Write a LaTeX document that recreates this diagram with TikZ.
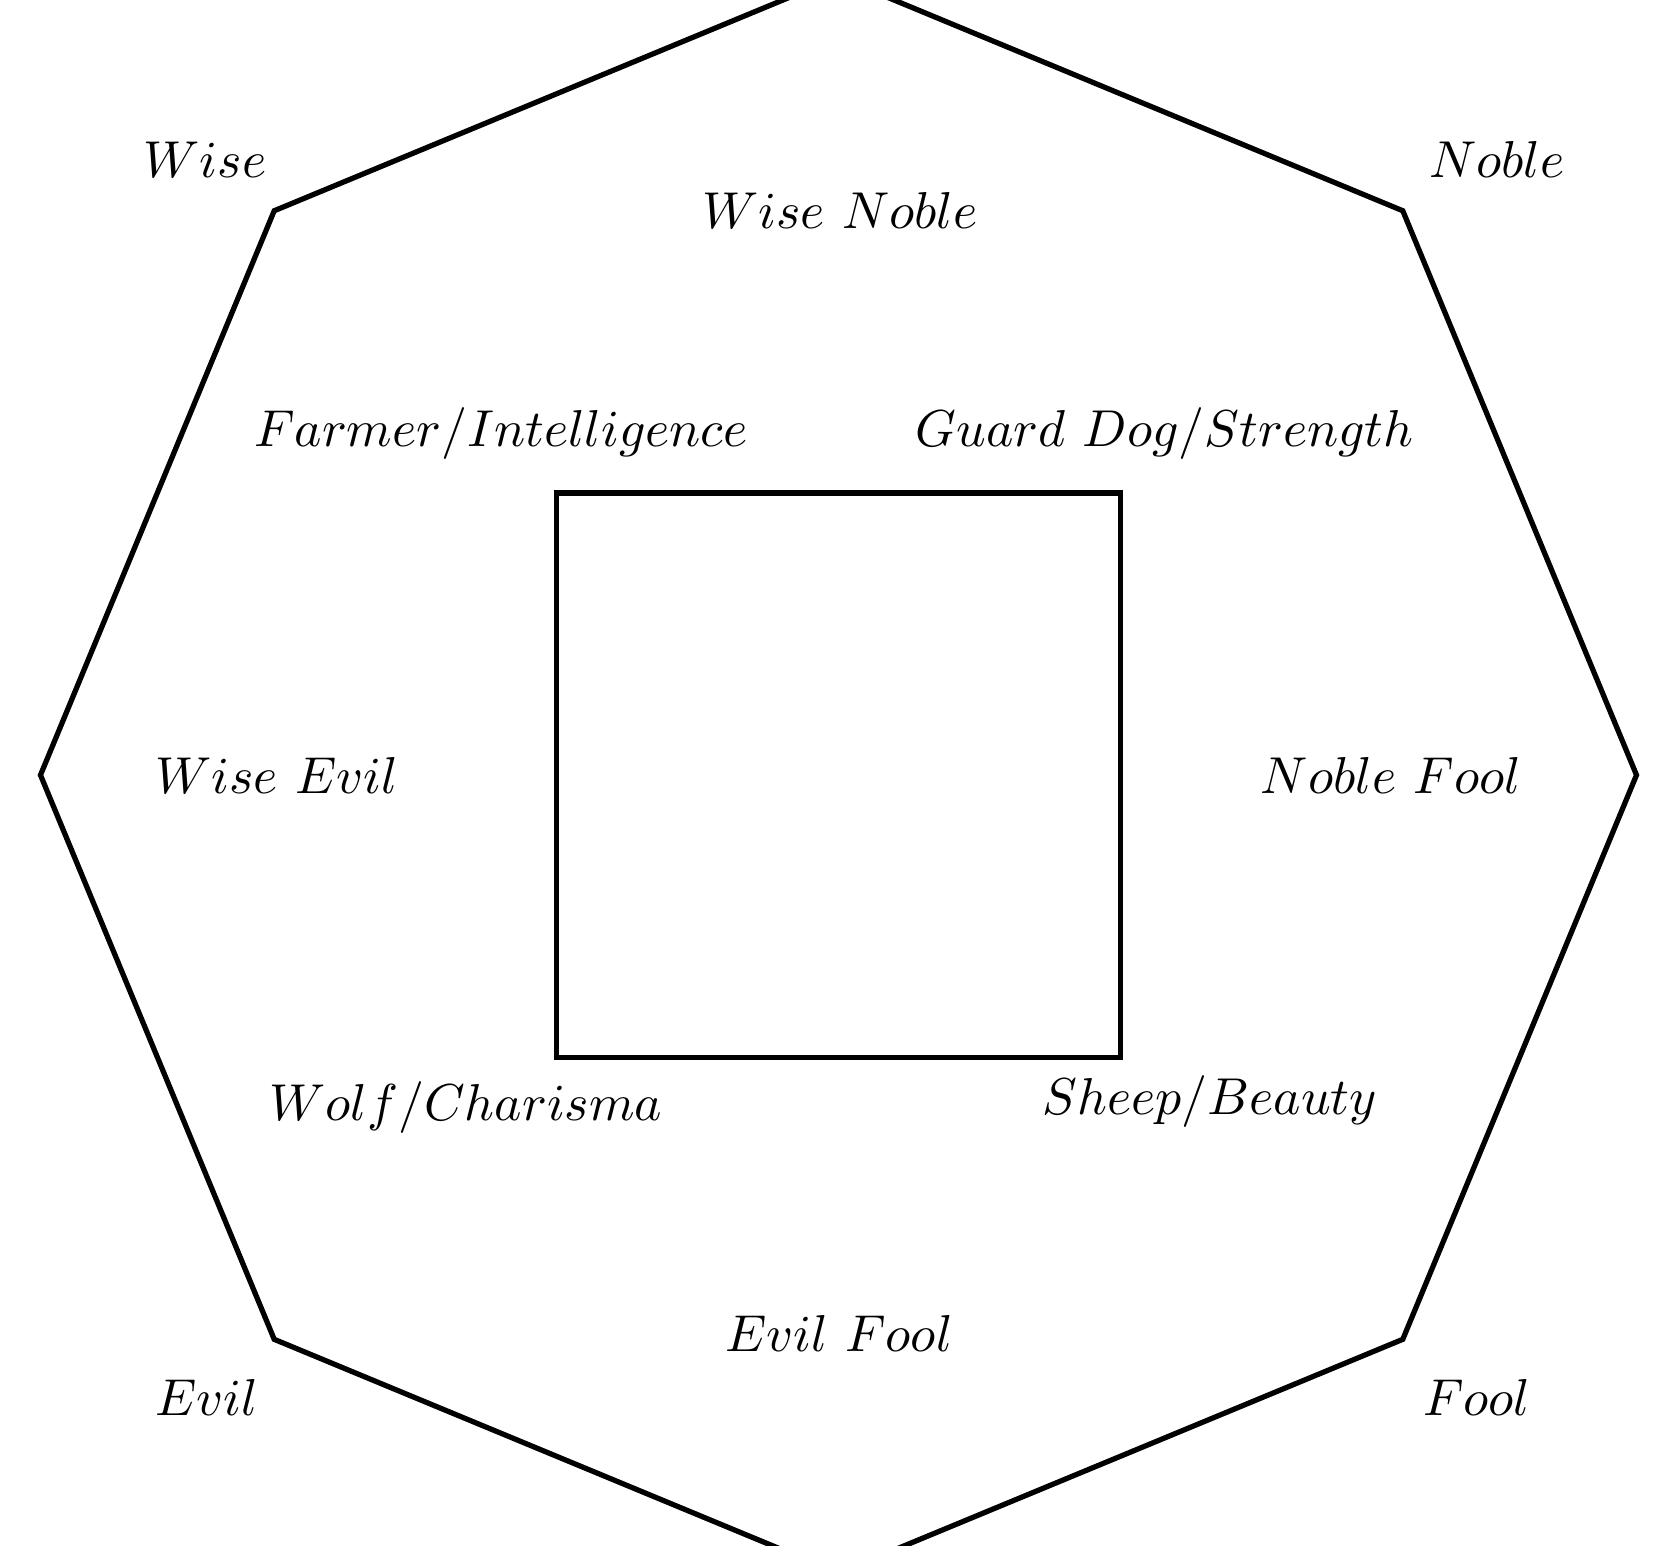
\documentclass[tikz,border=0pt]{standalone}
\usepackage{graphicx}
\newcommand{\lt}[1]{\scalebox{0.74}{$#1$}}
\begin{document}
\begin{tikzpicture}[
  shapeline/.style={line width=0.75pt, line join=miter},
  lbl/.style={inner sep=0pt}
]
\useasboundingbox (-4.203,-3.860) rectangle (4.158,3.885);
\begin{scope}
\clip (-4.203,-3.860) rectangle (4.158,3.885);
\draw[shapeline] (0:4) -- (45:4) -- (90:4) -- (135:4) -- (180:4) -- (225:4) -- (270:4) -- (315:4) -- cycle;
\end{scope}
\draw[shapeline] (-1.4142,-1.4142) rectangle (1.4142,1.4142);
\node[lbl] (wise) at (-3.175,3.085) {\lt{Wise}};
\node[lbl] (noble) at (3.30,3.085) {\lt{Noble}};
\node[lbl] (wisenoble) at (0.008,2.829) {\lt{Wise\ Noble}};
\node[lbl] (farmer) at (-1.692,1.711) {\lt{Farmer/Intelligence}};
\node[lbl] (guard) at (1.636,1.711) {\lt{Guard\ Dog/Strength}};
\node[lbl] (wiseevil) at (-2.815,-0.003) {\lt{Wise\ Evil}};
\node[lbl] (noblefool) at (2.769,-0.003) {\lt{Noble\ Fool}};
\node[lbl] (wolf) at (-1.867,-1.667) {\lt{Wolf/Charisma}};
\node[lbl] (sheep) at (1.862,-1.637) {\lt{Sheep/Beauty}};
\node[lbl] (evilfool) at (0.003,-2.800) {\lt{Evil\ Fool}};
\node[lbl] (evil) at (-3.166,-3.121) {\lt{Evil}};
\node[lbl] (fool) at (3.2,-3.121) {\lt{Fool}};
\end{tikzpicture}
\end{document}
